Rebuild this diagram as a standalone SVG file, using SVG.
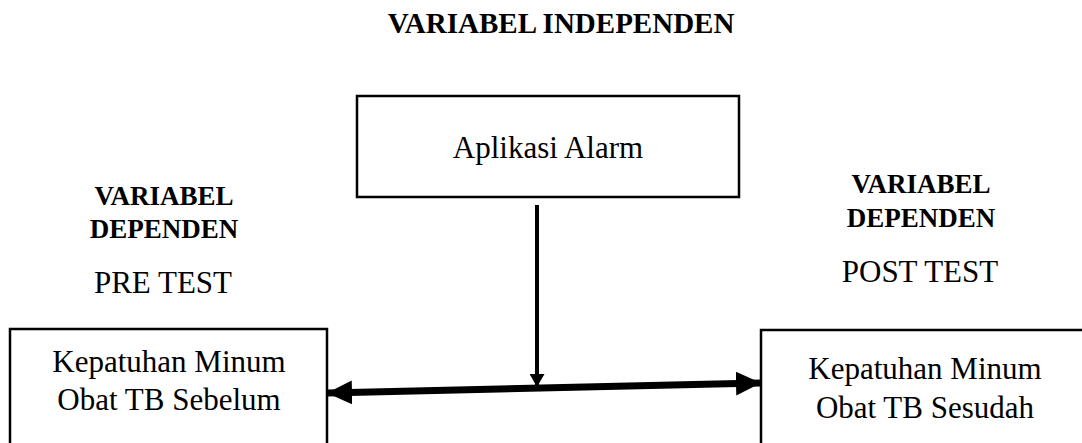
<svg xmlns="http://www.w3.org/2000/svg" width="1082" height="443" viewBox="0 0 1082 443">
<style>
.box{fill:#fff;stroke:#000;stroke-width:2.5}
.t{font-family:"Liberation Serif","Times New Roman",serif;fill:#000;text-anchor:middle}
.b{font-weight:bold;font-size:27px}
.r{font-size:31px}
.c{stroke:#000;fill:none}
</style>
<defs>
<marker id="big" markerUnits="userSpaceOnUse" markerWidth="25" markerHeight="24" refX="24" refY="12" orient="auto-start-reverse" viewBox="0 0 25 24">
<path d="M0,0 L25,12 L0,24 z" fill="#000"/>
</marker>
<marker id="small" markerUnits="userSpaceOnUse" markerWidth="13" markerHeight="15" refX="12" refY="7.5" orient="auto" viewBox="0 0 13 15">
<path d="M0,0 L13,7.5 L0,15 z" fill="#000"/>
</marker>
</defs>
<rect width="1082" height="443" fill="#fff"/>
<text class="t b" x="561" y="33" style="font-size:29px">VARIABEL INDEPENDEN</text>
<g id="left-label">
<text class="t b" x="164" y="205">VARIABEL</text>
<text class="t b" x="164" y="238">DEPENDEN</text>
<text class="t r" x="163" y="293">PRE TEST</text>
</g>
<g id="right-label">
<text class="t b" x="921" y="193">VARIABEL</text>
<text class="t b" x="921" y="227">DEPENDEN</text>
<text class="t r" x="920" y="282">POST TEST</text>
</g>
<g id="aplikasi">
<rect class="box" x="357" y="96" width="382" height="101"/>
<text class="t r" x="548" y="158">Aplikasi Alarm</text>
</g>
<g id="sebelum">
<rect class="box" x="10" y="329" width="317" height="130"/>
<text class="t r" x="169" y="372">Kepatuhan Minum</text>
<text class="t r" x="169" y="410">Obat TB Sebelum</text>
</g>
<g id="sesudah">
<rect class="box" x="761" y="330" width="340" height="130"/>
<text class="t r" x="925" y="379">Kepatuhan Minum</text>
<text class="t r" x="925" y="418">Obat TB Sesudah</text>
</g>
<g id="connectors">
<line class="c" x1="537" y1="205" x2="537" y2="386" stroke-width="4" marker-end="url(#small)"/>
<line class="c" x1="328" y1="393" x2="760" y2="383" stroke-width="7" marker-start="url(#big)" marker-end="url(#big)"/>
</g>
</svg>
